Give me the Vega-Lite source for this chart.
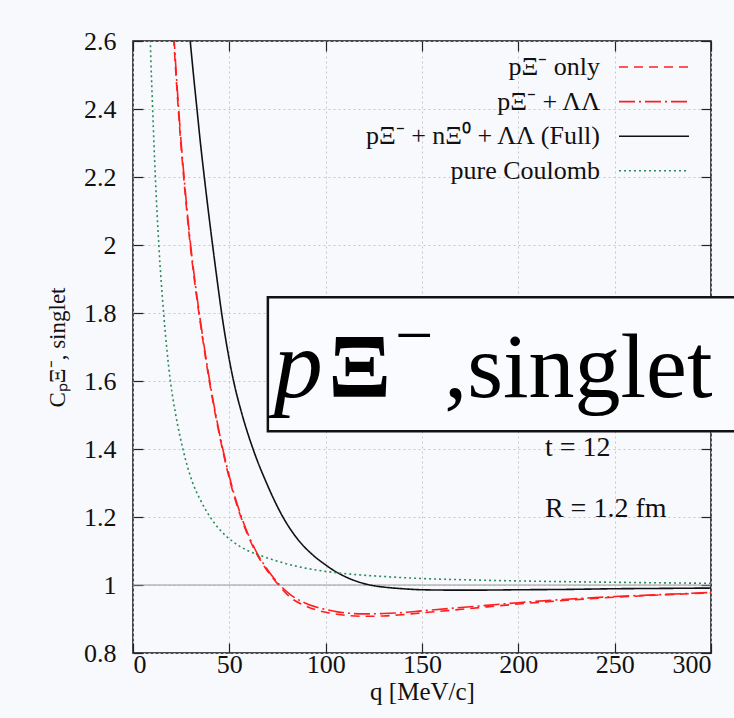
{
  "$schema": "https://vega.github.io/schema/vega-lite/v6.json",
  "width": 578,
  "height": 612,
  "autosize": "none",
  "padding": {"left": 133, "top": 41, "right": 23, "bottom": 65},
  "background": "#f8f9fd",
  "config": {
    "view": {"stroke": "#111111", "strokeWidth": 1.5, "fill": "#f8f9fd"},
    "font": "Liberation Serif",
    "axis": {
      "labelFont": "Liberation Serif",
      "titleFont": "Liberation Serif",
      "labelFontSize": 26,
      "titleFontSize": 25,
      "labelColor": "#111111",
      "titleColor": "#111111",
      "titleFontWeight": "normal",
      "tickColor": "#222222",
      "tickSize": -10,
      "tickWidth": 1.2,
      "domain": false,
      "gridColor": "#c8c8cc",
      "gridDash": [2, 3],
      "gridWidth": 1
    },
    "legend": {
      "orient": "none",
      "legendX": 502.5,
      "legendY": 7.5,
      "padding": 0,
      "symbolType": "M-2,0H2",
      "symbolSize": 1225,
      "symbolStrokeWidth": 1.6,
      "labelAlign": "right",
      "labelOffset": -72.5,
      "labelFont": "Liberation Serif",
      "labelFontSize": 26,
      "labelColor": "#111111",
      "labelLimit": 400,
      "rowPadding": 2.6,
      "title": null
    }
  },
  "datasets": {
    "curves": [
      {"s": "pΞ⁻ only", "q": 20.2, "C": 2.7},
      {"s": "pΞ⁻ only", "q": 21.2, "C": 2.6},
      {"s": "pΞ⁻ only", "q": 22.3, "C": 2.5},
      {"s": "pΞ⁻ only", "q": 23.5, "C": 2.4},
      {"s": "pΞ⁻ only", "q": 24.8, "C": 2.3},
      {"s": "pΞ⁻ only", "q": 26.3, "C": 2.2},
      {"s": "pΞ⁻ only", "q": 27.9, "C": 2.1},
      {"s": "pΞ⁻ only", "q": 29.7, "C": 2.0},
      {"s": "pΞ⁻ only", "q": 31.8, "C": 1.9},
      {"s": "pΞ⁻ only", "q": 34.2, "C": 1.8},
      {"s": "pΞ⁻ only", "q": 36.8, "C": 1.7},
      {"s": "pΞ⁻ only", "q": 39.6, "C": 1.6},
      {"s": "pΞ⁻ only", "q": 42.8, "C": 1.5},
      {"s": "pΞ⁻ only", "q": 46.4, "C": 1.4},
      {"s": "pΞ⁻ only", "q": 50.6, "C": 1.3},
      {"s": "pΞ⁻ only", "q": 56.0, "C": 1.2},
      {"s": "pΞ⁻ only", "q": 63.4, "C": 1.1},
      {"s": "pΞ⁻ only", "q": 68.7, "C": 1.05},
      {"s": "pΞ⁻ only", "q": 75.6, "C": 1.0},
      {"s": "pΞ⁻ only", "q": 82, "C": 0.962},
      {"s": "pΞ⁻ only", "q": 89, "C": 0.94},
      {"s": "pΞ⁻ only", "q": 95, "C": 0.927},
      {"s": "pΞ⁻ only", "q": 100, "C": 0.92},
      {"s": "pΞ⁻ only", "q": 106, "C": 0.914},
      {"s": "pΞ⁻ only", "q": 112, "C": 0.91},
      {"s": "pΞ⁻ only", "q": 120, "C": 0.908},
      {"s": "pΞ⁻ only", "q": 130, "C": 0.909},
      {"s": "pΞ⁻ only", "q": 140, "C": 0.913},
      {"s": "pΞ⁻ only", "q": 150, "C": 0.918},
      {"s": "pΞ⁻ only", "q": 175, "C": 0.931},
      {"s": "pΞ⁻ only", "q": 200, "C": 0.944},
      {"s": "pΞ⁻ only", "q": 225, "C": 0.955},
      {"s": "pΞ⁻ only", "q": 250, "C": 0.964},
      {"s": "pΞ⁻ only", "q": 275, "C": 0.971},
      {"s": "pΞ⁻ only", "q": 300, "C": 0.977},

      {"s": "pΞ⁻ + ΛΛ", "q": 20.4, "C": 2.7},
      {"s": "pΞ⁻ + ΛΛ", "q": 21.4, "C": 2.6},
      {"s": "pΞ⁻ + ΛΛ", "q": 22.5, "C": 2.5},
      {"s": "pΞ⁻ + ΛΛ", "q": 23.7, "C": 2.4},
      {"s": "pΞ⁻ + ΛΛ", "q": 25.0, "C": 2.3},
      {"s": "pΞ⁻ + ΛΛ", "q": 26.5, "C": 2.2},
      {"s": "pΞ⁻ + ΛΛ", "q": 28.1, "C": 2.1},
      {"s": "pΞ⁻ + ΛΛ", "q": 29.9, "C": 2.0},
      {"s": "pΞ⁻ + ΛΛ", "q": 32.0, "C": 1.9},
      {"s": "pΞ⁻ + ΛΛ", "q": 34.4, "C": 1.8},
      {"s": "pΞ⁻ + ΛΛ", "q": 37.0, "C": 1.7},
      {"s": "pΞ⁻ + ΛΛ", "q": 39.8, "C": 1.6},
      {"s": "pΞ⁻ + ΛΛ", "q": 43.0, "C": 1.5},
      {"s": "pΞ⁻ + ΛΛ", "q": 46.6, "C": 1.4},
      {"s": "pΞ⁻ + ΛΛ", "q": 50.9, "C": 1.3},
      {"s": "pΞ⁻ + ΛΛ", "q": 56.3, "C": 1.2},
      {"s": "pΞ⁻ + ΛΛ", "q": 63.8, "C": 1.1},
      {"s": "pΞ⁻ + ΛΛ", "q": 69.2, "C": 1.05},
      {"s": "pΞ⁻ + ΛΛ", "q": 76.2, "C": 1.0},
      {"s": "pΞ⁻ + ΛΛ", "q": 82, "C": 0.97},
      {"s": "pΞ⁻ + ΛΛ", "q": 89, "C": 0.948},
      {"s": "pΞ⁻ + ΛΛ", "q": 95, "C": 0.935},
      {"s": "pΞ⁻ + ΛΛ", "q": 100, "C": 0.928},
      {"s": "pΞ⁻ + ΛΛ", "q": 106, "C": 0.921},
      {"s": "pΞ⁻ + ΛΛ", "q": 112, "C": 0.917},
      {"s": "pΞ⁻ + ΛΛ", "q": 120, "C": 0.915},
      {"s": "pΞ⁻ + ΛΛ", "q": 130, "C": 0.916},
      {"s": "pΞ⁻ + ΛΛ", "q": 140, "C": 0.919},
      {"s": "pΞ⁻ + ΛΛ", "q": 150, "C": 0.924},
      {"s": "pΞ⁻ + ΛΛ", "q": 175, "C": 0.936},
      {"s": "pΞ⁻ + ΛΛ", "q": 200, "C": 0.948},
      {"s": "pΞ⁻ + ΛΛ", "q": 225, "C": 0.958},
      {"s": "pΞ⁻ + ΛΛ", "q": 250, "C": 0.966},
      {"s": "pΞ⁻ + ΛΛ", "q": 275, "C": 0.972},
      {"s": "pΞ⁻ + ΛΛ", "q": 300, "C": 0.978},

      {"s": "pΞ⁻ + nΞ⁰ + ΛΛ (Full)", "q": 28.1, "C": 2.7},
      {"s": "pΞ⁻ + nΞ⁰ + ΛΛ (Full)", "q": 29.7, "C": 2.6},
      {"s": "pΞ⁻ + nΞ⁰ + ΛΛ (Full)", "q": 31.4, "C": 2.5},
      {"s": "pΞ⁻ + nΞ⁰ + ΛΛ (Full)", "q": 33.2, "C": 2.4},
      {"s": "pΞ⁻ + nΞ⁰ + ΛΛ (Full)", "q": 35.0, "C": 2.3},
      {"s": "pΞ⁻ + nΞ⁰ + ΛΛ (Full)", "q": 37.0, "C": 2.2},
      {"s": "pΞ⁻ + nΞ⁰ + ΛΛ (Full)", "q": 39.1, "C": 2.1},
      {"s": "pΞ⁻ + nΞ⁰ + ΛΛ (Full)", "q": 41.3, "C": 2.0},
      {"s": "pΞ⁻ + nΞ⁰ + ΛΛ (Full)", "q": 43.6, "C": 1.9},
      {"s": "pΞ⁻ + nΞ⁰ + ΛΛ (Full)", "q": 46.0, "C": 1.8},
      {"s": "pΞ⁻ + nΞ⁰ + ΛΛ (Full)", "q": 48.8, "C": 1.7},
      {"s": "pΞ⁻ + nΞ⁰ + ΛΛ (Full)", "q": 52.2, "C": 1.6},
      {"s": "pΞ⁻ + nΞ⁰ + ΛΛ (Full)", "q": 56.7, "C": 1.5},
      {"s": "pΞ⁻ + nΞ⁰ + ΛΛ (Full)", "q": 62.3, "C": 1.4},
      {"s": "pΞ⁻ + nΞ⁰ + ΛΛ (Full)", "q": 69.3, "C": 1.3},
      {"s": "pΞ⁻ + nΞ⁰ + ΛΛ (Full)", "q": 77.8, "C": 1.2},
      {"s": "pΞ⁻ + nΞ⁰ + ΛΛ (Full)", "q": 85, "C": 1.138},
      {"s": "pΞ⁻ + nΞ⁰ + ΛΛ (Full)", "q": 93, "C": 1.09},
      {"s": "pΞ⁻ + nΞ⁰ + ΛΛ (Full)", "q": 100, "C": 1.059},
      {"s": "pΞ⁻ + nΞ⁰ + ΛΛ (Full)", "q": 105, "C": 1.04},
      {"s": "pΞ⁻ + nΞ⁰ + ΛΛ (Full)", "q": 110, "C": 1.025},
      {"s": "pΞ⁻ + nΞ⁰ + ΛΛ (Full)", "q": 116, "C": 1.011},
      {"s": "pΞ⁻ + nΞ⁰ + ΛΛ (Full)", "q": 123, "C": 1.0},
      {"s": "pΞ⁻ + nΞ⁰ + ΛΛ (Full)", "q": 130, "C": 0.994},
      {"s": "pΞ⁻ + nΞ⁰ + ΛΛ (Full)", "q": 140, "C": 0.989},
      {"s": "pΞ⁻ + nΞ⁰ + ΛΛ (Full)", "q": 150, "C": 0.986},
      {"s": "pΞ⁻ + nΞ⁰ + ΛΛ (Full)", "q": 165, "C": 0.985},
      {"s": "pΞ⁻ + nΞ⁰ + ΛΛ (Full)", "q": 180, "C": 0.985},
      {"s": "pΞ⁻ + nΞ⁰ + ΛΛ (Full)", "q": 200, "C": 0.986},
      {"s": "pΞ⁻ + nΞ⁰ + ΛΛ (Full)", "q": 225, "C": 0.987},
      {"s": "pΞ⁻ + nΞ⁰ + ΛΛ (Full)", "q": 250, "C": 0.989},
      {"s": "pΞ⁻ + nΞ⁰ + ΛΛ (Full)", "q": 275, "C": 0.99},
      {"s": "pΞ⁻ + nΞ⁰ + ΛΛ (Full)", "q": 300, "C": 0.991},

      {"s": "pure Coulomb", "q": 8.5, "C": 2.72},
      {"s": "pure Coulomb", "q": 9.0, "C": 2.6},
      {"s": "pure Coulomb", "q": 10.2, "C": 2.4},
      {"s": "pure Coulomb", "q": 11.6, "C": 2.2},
      {"s": "pure Coulomb", "q": 13.4, "C": 2.0},
      {"s": "pure Coulomb", "q": 15.9, "C": 1.8},
      {"s": "pure Coulomb", "q": 19.4, "C": 1.6},
      {"s": "pure Coulomb", "q": 22.2, "C": 1.5},
      {"s": "pure Coulomb", "q": 25.9, "C": 1.4},
      {"s": "pure Coulomb", "q": 31, "C": 1.3},
      {"s": "pure Coulomb", "q": 35, "C": 1.25},
      {"s": "pure Coulomb", "q": 40, "C": 1.2},
      {"s": "pure Coulomb", "q": 45.5, "C": 1.16},
      {"s": "pure Coulomb", "q": 52, "C": 1.127},
      {"s": "pure Coulomb", "q": 60, "C": 1.1},
      {"s": "pure Coulomb", "q": 66, "C": 1.087},
      {"s": "pure Coulomb", "q": 75, "C": 1.07},
      {"s": "pure Coulomb", "q": 85, "C": 1.055},
      {"s": "pure Coulomb", "q": 100, "C": 1.04},
      {"s": "pure Coulomb", "q": 115, "C": 1.031},
      {"s": "pure Coulomb", "q": 130, "C": 1.025},
      {"s": "pure Coulomb", "q": 150, "C": 1.019},
      {"s": "pure Coulomb", "q": 175, "C": 1.015},
      {"s": "pure Coulomb", "q": 200, "C": 1.012},
      {"s": "pure Coulomb", "q": 250, "C": 1.008},
      {"s": "pure Coulomb", "q": 300, "C": 1.005}
    ]
  },
  "data": {"name": "curves"},
  "resolve": {"axis": {"x": "independent", "y": "independent"}},
  "layer": [
    {
      "data": {"values": [{}]},
      "mark": {"type": "rule", "color": "#9a9a9a", "strokeWidth": 1.2},
      "encoding": {
        "y": {"datum": 1, "type": "quantitative", "axis": null}
      }
    },
    {
      "mark": {"type": "line", "clip": true, "interpolate": "monotone", "strokeWidth": 1.6},
      "encoding": {
        "x": {
          "field": "q", "type": "quantitative",
          "scale": {"domain": [0, 300], "nice": false, "zero": false},
          "axis": {
            "values": [0, 50, 100, 150, 200, 250, 300],
            "grid": true,
            "labelPadding": 8,
            "title": "q [MeV/c]",
            "titlePadding": 2
          }
        },
        "y": {
          "field": "C", "type": "quantitative",
          "scale": {"domain": [0.8, 2.6], "nice": false, "zero": false},
          "axis": {
            "values": [0.8, 1, 1.2, 1.4, 1.6, 1.8, 2, 2.2, 2.4, 2.6],
            "format": "~g",
            "grid": true,
            "labelPadding": 27,
            "title": "CₚΞ⁻, singlet",
            "titleFontSize": 23,
            "titlePadding": 14
          }
        },
        "color": {
          "field": "s", "type": "nominal",
          "scale": {
            "domain": ["pΞ⁻ only", "pΞ⁻ + ΛΛ", "pΞ⁻ + nΞ⁰ + ΛΛ (Full)", "pure Coulomb"],
            "range": ["#ff1f1f", "#ff1f1f", "#111111", "#2e8b57"]
          }
        },
        "strokeDash": {
          "field": "s", "type": "nominal",
          "scale": {
            "domain": ["pΞ⁻ only", "pΞ⁻ + ΛΛ", "pΞ⁻ + nΞ⁰ + ΛΛ (Full)", "pure Coulomb"],
            "range": [[9, 6], [16, 4, 2, 4], [1, 0], [2, 3]]
          }
        }
      }
    },
    {
      "mark": {"type": "point", "opacity": 0},
      "encoding": {
        "x": {"field": "q", "type": "quantitative", "axis": {"orient": "top", "values": [0, 50, 100, 150, 200, 250, 300], "labels": false, "title": null, "grid": false}},
        "y": {"field": "C", "type": "quantitative", "axis": {"orient": "right", "values": [0.8, 1, 1.2, 1.4, 1.6, 1.8, 2, 2.2, 2.4, 2.6], "labels": false, "title": null, "grid": false}}
      }
    },
    {
      "data": {"values": [{}]},
      "mark": {"type": "rect", "fill": "#fafbfe", "stroke": "#111111", "strokeWidth": 2.5, "clip": false},
      "encoding": {
        "x": {"datum": 70, "type": "quantitative", "axis": null},
        "x2": {"datum": 318},
        "y": {"datum": 1.846, "type": "quantitative", "axis": null},
        "y2": {"datum": 1.452}
      }
    },
    {
      "data": {"values": [{}]},
      "mark": {"type": "text", "text": "p", "font": "Liberation Serif", "fontStyle": "italic", "fontSize": 98, "align": "left", "baseline": "alphabetic", "color": "#000000"},
      "encoding": {
        "x": {"datum": 73, "type": "quantitative", "axis": null},
        "y": {"datum": 1.552, "type": "quantitative", "axis": null}
      }
    },
    {
      "data": {"values": [{}]},
      "mark": {"type": "text", "text": "Ξ", "font": "Liberation Serif", "fontWeight": "bold", "fontSize": 92, "align": "left", "baseline": "alphabetic", "color": "#000000"},
      "encoding": {
        "x": {"datum": 101.5, "type": "quantitative", "axis": null},
        "y": {"datum": 1.552, "type": "quantitative", "axis": null}
      }
    },
    {
      "data": {"values": [{}]},
      "mark": {"type": "text", "text": "−", "font": "Liberation Serif", "fontSize": 68, "align": "left", "baseline": "alphabetic", "color": "#000000"},
      "encoding": {
        "x": {"datum": 136, "type": "quantitative", "axis": null},
        "y": {"datum": 1.667, "type": "quantitative", "axis": null}
      }
    },
    {
      "data": {"values": [{}]},
      "mark": {"type": "text", "text": ",singlet", "font": "Liberation Serif", "fontSize": 92, "align": "left", "baseline": "alphabetic", "color": "#000000"},
      "encoding": {
        "x": {"datum": 161.5, "type": "quantitative", "axis": null},
        "y": {"datum": 1.552, "type": "quantitative", "axis": null}
      }
    },
    {
      "data": {"values": [{}]},
      "mark": {"type": "text", "text": "t = 12", "font": "Liberation Serif", "fontSize": 28, "align": "left", "baseline": "alphabetic", "color": "#111111"},
      "encoding": {
        "x": {"datum": 213.8, "type": "quantitative", "axis": null},
        "y": {"datum": 1.378, "type": "quantitative", "axis": null}
      }
    },
    {
      "data": {"values": [{}]},
      "mark": {"type": "text", "text": "R = 1.2 fm", "font": "Liberation Serif", "fontSize": 28, "align": "left", "baseline": "alphabetic", "color": "#111111"},
      "encoding": {
        "x": {"datum": 213.8, "type": "quantitative", "axis": null},
        "y": {"datum": 1.199, "type": "quantitative", "axis": null}
      }
    }
  ]
}
